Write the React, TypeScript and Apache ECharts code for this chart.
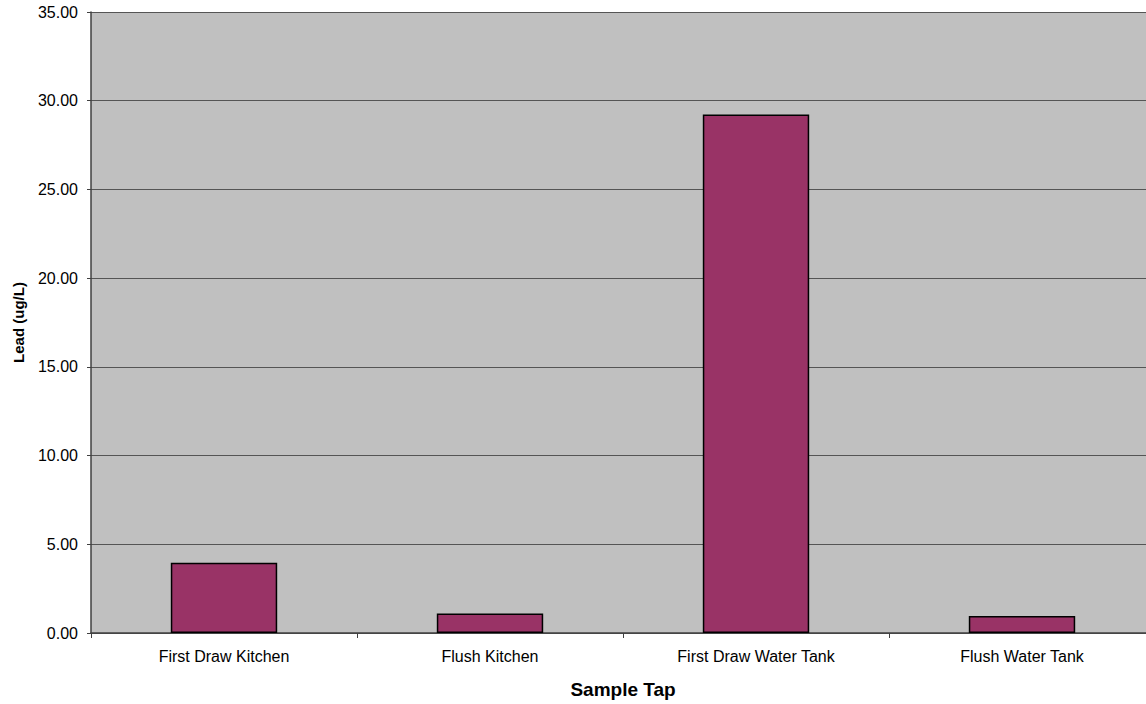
import React, { useEffect, useRef } from "react";
import * as echarts from "echarts";

// Sample taps and measured lead concentrations (ug/L)
const categories = [
  "First Draw Kitchen",
  "Flush Kitchen",
  "First Draw Water Tank",
  "Flush Water Tank",
];
const leadValues = [3.96, 1.1, 29.22, 0.96];

const FONT = "Arial, 'Liberation Sans', sans-serif";

export default function App() {
  const ref = useRef<HTMLDivElement>(null);

  useEffect(() => {
    if (!ref.current) return;
    const chart = echarts.init(ref.current, undefined, { renderer: "svg" });
    chart.setOption({
      animation: false,
      backgroundColor: "#ffffff",
      grid: {
        left: 91,
        right: 0,
        top: 12,
        bottom: 71,
        show: true,
        backgroundColor: "#c0c0c0",
        borderWidth: 0,
      },
      xAxis: {
        type: "category",
        data: categories,
        name: "Sample Tap",
        nameLocation: "middle",
        nameGap: 47,
        nameTextStyle: {
          fontFamily: FONT,
          fontSize: 19,
          fontWeight: "bold",
          color: "#000",
        },
        axisLine: { lineStyle: { color: "#404040", width: 1.5 } },
        axisTick: {
          show: true,
          alignWithLabel: false,
          length: 5,
          lineStyle: { color: "#404040" },
        },
        axisLabel: {
          fontFamily: FONT,
          fontSize: 16,
          color: "#000",
          margin: 15,
          interval: 0,
        },
      },
      yAxis: {
        type: "value",
        min: 0,
        max: 35,
        interval: 5,
        name: "Lead (ug/L)",
        nameLocation: "middle",
        nameGap: 65,
        nameRotate: 90,
        nameTextStyle: {
          fontFamily: FONT,
          fontSize: 15,
          fontWeight: "bold",
          color: "#000",
        },
        axisLine: { show: true, lineStyle: { color: "#404040", width: 1.5 } },
        axisTick: { show: true, length: 4, lineStyle: { color: "#404040" } },
        axisLabel: {
          fontFamily: FONT,
          fontSize: 16,
          color: "#000",
          margin: 13,
          formatter: (v: number) => v.toFixed(2),
        },
        splitLine: { show: true, lineStyle: { color: "#555555", width: 1 } },
      },
      series: [
        {
          type: "bar",
          data: leadValues,
          barWidth: "40%",
          itemStyle: {
            color: "#993366",
            borderColor: "#000000",
            borderWidth: 1.5,
          },
        },
      ],
    });
    return () => chart.dispose();
  }, []);

  // The plot runs a little past the right edge of the visible frame,
  // so the chart canvas is slightly wider than its clipping wrapper.
  return (
    <div
      style={{
        position: "fixed",
        left: 0,
        top: 0,
        width: 1146,
        height: 704,
        overflow: "hidden",
      }}
    >
      <div ref={ref} style={{ width: 1155, height: 704 }} />
    </div>
  );
}
